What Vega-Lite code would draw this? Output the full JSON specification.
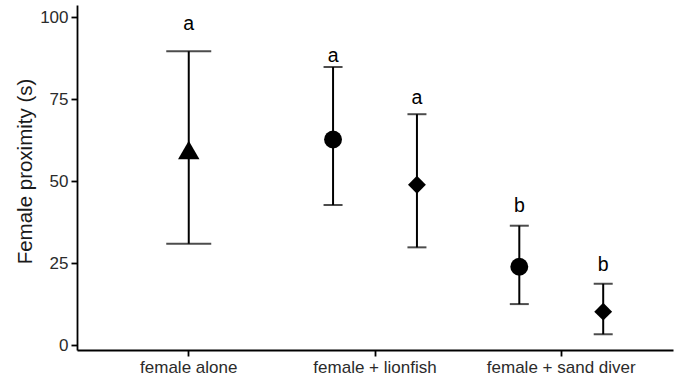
{
  "$schema": "https://vega.github.io/schema/vega-lite/v6.json",
  "width": 596,
  "height": 345,
  "autosize": "none",
  "padding": {"left": 77, "top": 5, "right": 8, "bottom": 34},
  "datasets": {
    "alone": [
      {"treatment": "female alone", "group": "alone", "mean": 59.5, "lower": 30.9, "upper": 89.6, "letter": "a", "label_y": 97.9}
    ],
    "paired": [
      {"treatment": "female + lionfish", "group": "circle", "mean": 62.7, "lower": 42.7, "upper": 84.8, "letter": "a", "label_y": 88.2},
      {"treatment": "female + lionfish", "group": "diamond", "mean": 48.9, "lower": 29.8, "upper": 70.4, "letter": "a", "label_y": 75.4},
      {"treatment": "female + sand diver", "group": "circle", "mean": 23.9, "lower": 12.5, "upper": 36.4, "letter": "b", "label_y": 42.5},
      {"treatment": "female + sand diver", "group": "diamond", "mean": 10.2, "lower": 3.3, "upper": 18.7, "letter": "b", "label_y": 24.4}
    ]
  },
  "encoding": {
    "x": {
      "field": "treatment",
      "type": "nominal",
      "sort": ["female alone", "female + lionfish", "female + sand diver"],
      "scale": {"domain": ["female alone", "female + lionfish", "female + sand diver"], "paddingInner": 0, "paddingOuter": 0.1},
      "axis": {"title": null, "labelAngle": 0, "labelFontSize": 17, "labelColor": "#2b2b2b", "labelPadding": 3, "tickSize": 6, "tickWidth": 1.8, "tickColor": "black", "domainColor": "black", "domainWidth": 1.8}
    },
    "y": {
      "field": "mean",
      "type": "quantitative",
      "scale": {"domain": [-1.5, 103.7], "nice": false, "zero": false},
      "axis": {
        "title": "Female proximity (s)",
        "values": [0, 25, 50, 75, 100],
        "grid": false,
        "labelFontSize": 17,
        "labelColor": "#2b2b2b",
        "labelPadding": 3,
        "tickSize": 6,
        "tickWidth": 1.8,
        "tickColor": "black",
        "domainColor": "black",
        "domainWidth": 1.8,
        "titleFontSize": 20.5,
        "titleFontWeight": "normal",
        "titleColor": "#1a1a1a",
        "titlePadding": 4,
        "titleY": 166
      }
    }
  },
  "layer": [
    {
      "data": {"name": "alone"},
      "layer": [
        {
          "mark": {"type": "rule", "color": "black", "strokeWidth": 2},
          "encoding": {
            "y": {"field": "lower", "type": "quantitative", "title": "Female proximity (s)"},
            "y2": {"field": "upper"}
          }
        },
        {
          "mark": {"type": "tick", "color": "black", "size": 45, "thickness": 2},
          "encoding": {"y": {"field": "lower", "type": "quantitative", "title": "Female proximity (s)"}}
        },
        {
          "mark": {"type": "tick", "color": "black", "size": 45, "thickness": 2},
          "encoding": {"y": {"field": "upper", "type": "quantitative", "title": "Female proximity (s)"}}
        },
        {
          "mark": {"type": "point", "filled": true, "opacity": 1, "color": "black", "size": 460},
          "encoding": {
            "shape": {"field": "group", "type": "nominal", "scale": {"domain": ["alone", "circle", "diamond"], "range": ["triangle-up", "circle", "diamond"]}, "legend": null}
          }
        },
        {
          "mark": {"type": "text", "fontSize": 19.5, "baseline": "middle", "color": "black"},
          "encoding": {
            "y": {"field": "label_y", "type": "quantitative", "title": "Female proximity (s)"},
            "text": {"field": "letter"}
          }
        }
      ]
    },
    {
      "data": {"name": "paired"},
      "encoding": {
        "xOffset": {"field": "group", "type": "nominal", "scale": {"domain": ["circle", "diamond"], "paddingInner": 0, "paddingOuter": 0.11}}
      },
      "layer": [
        {
          "mark": {"type": "rule", "color": "black", "strokeWidth": 2},
          "encoding": {
            "y": {"field": "lower", "type": "quantitative", "title": "Female proximity (s)"},
            "y2": {"field": "upper"}
          }
        },
        {
          "mark": {"type": "tick", "color": "black", "size": 19, "thickness": 2},
          "encoding": {"y": {"field": "lower", "type": "quantitative", "title": "Female proximity (s)"}}
        },
        {
          "mark": {"type": "tick", "color": "black", "size": 19, "thickness": 2},
          "encoding": {"y": {"field": "upper", "type": "quantitative", "title": "Female proximity (s)"}}
        },
        {
          "mark": {"type": "point", "filled": true, "opacity": 1, "color": "black", "size": 320},
          "encoding": {
            "shape": {"field": "group", "type": "nominal", "legend": null}
          }
        },
        {
          "mark": {"type": "text", "fontSize": 19.5, "baseline": "middle", "color": "black"},
          "encoding": {
            "y": {"field": "label_y", "type": "quantitative", "title": "Female proximity (s)"},
            "text": {"field": "letter"}
          }
        }
      ]
    }
  ],
  "config": {
    "font": "Liberation Sans",
    "view": {"stroke": null}
  }
}
